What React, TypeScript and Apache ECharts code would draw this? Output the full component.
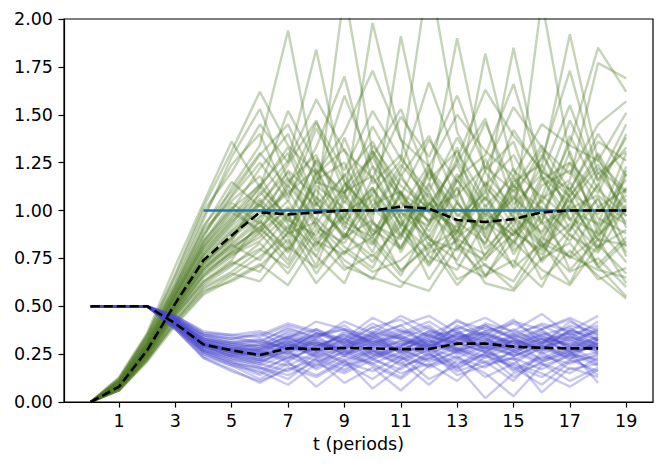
import React, { useEffect, useRef } from "react";
import * as echarts from "echarts";

// time index for each series
const T_GREEN = [0, 1, 2, 3, 4, 5, 6, 7, 8, 9, 10, 11, 12, 13, 14, 15, 16, 17, 18, 19];
const T_PURPLE = [0, 1, 2, 3, 4, 5, 6, 7, 8, 9, 10, 11, 12, 13, 14, 15, 16, 17, 18];
const X_TICKS = [1, 3, 5, 7, 9, 11, 13, 15, 17, 19];

// simulated paths (green), values at t = 0..19
const G01 = [0, 0.08, 0.27, 0.50, 0.72, 0.86, 1.05, 0.82, 1.21, 0.93, 1.12, 0.78, 1.04, 0.89, 1.27, 0.95, 0.74, 1.10, 0.98, 1.16];
const G02 = [0, 0.10, 0.31, 0.58, 0.86, 1.12, 1.34, 1.94, 1.18, 0.90, 1.31, 1.05, 0.82, 1.16, 0.97, 1.22, 0.86, 1.03, 1.29, 0.91];
const G03 = [0, 0.06, 0.22, 0.42, 0.60, 0.68, 0.79, 0.97, 0.71, 1.08, 0.84, 0.66, 0.93, 1.12, 0.75, 0.88, 1.02, 0.69, 0.85, 0.62];
const G04 = [0, 0.09, 0.29, 0.53, 0.78, 0.95, 1.08, 1.26, 1.84, 1.15, 0.87, 1.01, 1.24, 0.80, 0.99, 0.87, 1.18, 0.90, 1.06, 0.78];
const G05 = [0, 0.07, 0.25, 0.47, 0.66, 0.79, 0.92, 0.74, 1.13, 1.01, 0.78, 1.19, 0.93, 1.33, 0.86, 0.71, 1.08, 0.95, 0.80, 1.12];
const G06 = [0, 0.12, 0.34, 0.62, 0.95, 1.28, 1.53, 1.16, 1.02, 2.15, 1.30, 0.96, 1.14, 0.88, 1.21, 1.36, 0.98, 1.25, 1.09, 1.40];
const G07 = [0, 0.08, 0.26, 0.49, 0.70, 0.83, 0.96, 1.11, 0.85, 0.97, 1.23, 0.91, 0.73, 1.05, 0.82, 1.17, 0.94, 1.31, 0.87, 1.03];
const G08 = [0, 0.11, 0.33, 0.60, 0.90, 1.05, 1.18, 0.94, 1.27, 1.06, 1.98, 1.37, 0.99, 0.84, 1.14, 0.92, 1.29, 1.07, 0.79, 1.21];
const G09 = [0, 0.07, 0.24, 0.45, 0.62, 0.73, 0.68, 0.89, 0.76, 0.62, 0.94, 0.81, 1.06, 0.72, 0.65, 0.90, 0.77, 1.01, 0.70, 0.84];
const G10 = [0, 0.09, 0.28, 0.52, 0.76, 0.90, 1.03, 0.88, 1.19, 1.32, 0.95, 1.91, 1.22, 1.04, 0.86, 1.11, 0.80, 1.08, 1.24, 0.97];
const G11 = [0, 0.10, 0.30, 0.55, 0.82, 1.00, 1.22, 1.40, 1.04, 0.86, 1.09, 1.26, 2.25, 1.41, 1.12, 0.97, 0.83, 1.15, 0.91, 1.06];
const G12 = [0, 0.06, 0.21, 0.40, 0.56, 0.64, 0.72, 0.61, 0.84, 0.69, 0.77, 0.63, 0.58, 0.81, 0.66, 0.74, 0.60, 0.88, 0.71, 0.55];
const G13 = [0, 0.08, 0.27, 0.51, 0.74, 0.88, 0.99, 1.17, 0.91, 0.83, 1.06, 0.87, 1.13, 1.90, 1.20, 1.01, 0.89, 1.12, 0.84, 1.19];
const G14 = [0, 0.13, 0.36, 0.71, 1.04, 1.36, 1.12, 1.52, 1.24, 1.09, 1.44, 1.18, 1.39, 1.05, 1.82, 1.21, 1.07, 1.47, 1.16, 1.33];
const G15 = [0, 0.07, 0.25, 0.48, 0.68, 0.78, 0.86, 1.02, 0.79, 0.97, 0.83, 1.10, 0.76, 0.69, 0.94, 1.08, 0.73, 0.90, 1.14, 0.81];
const G16 = [0, 0.09, 0.29, 0.54, 0.79, 0.94, 1.06, 0.90, 1.16, 1.25, 0.93, 0.85, 1.20, 0.97, 1.09, 1.85, 1.17, 0.96, 0.88, 1.23];
const G17 = [0, 0.10, 0.31, 0.57, 0.84, 1.01, 1.13, 1.30, 0.98, 1.19, 0.89, 1.07, 0.86, 1.12, 0.80, 0.95, 2.10, 1.28, 1.02, 0.93];
const G18 = [0, 0.06, 0.23, 0.43, 0.59, 0.67, 0.63, 0.81, 0.70, 0.86, 0.95, 0.68, 0.83, 0.61, 0.77, 0.92, 0.64, 0.79, 0.66, 0.54];
const G19 = [0, 0.08, 0.27, 0.50, 0.73, 0.86, 0.97, 1.09, 1.22, 0.94, 0.86, 1.17, 1.00, 0.91, 1.15, 0.99, 1.23, 1.92, 1.26, 1.10];
const G20 = [0, 0.11, 0.33, 0.61, 0.92, 1.10, 1.30, 1.12, 1.46, 1.21, 1.52, 1.27, 1.10, 1.38, 1.13, 1.29, 1.04, 1.35, 1.85, 1.62];
const G21 = [0, 0.07, 0.24, 0.46, 0.65, 0.76, 0.88, 0.72, 0.96, 0.81, 0.70, 0.99, 0.85, 0.74, 1.03, 0.79, 0.94, 0.75, 0.87, 1.00];
const G22 = [0, 0.09, 0.28, 0.53, 0.77, 0.92, 1.04, 1.20, 0.93, 1.13, 1.28, 0.99, 0.92, 1.19, 0.98, 0.87, 1.06, 1.16, 1.77, 1.69];
const G23 = [0, 0.08, 0.26, 0.49, 0.71, 0.82, 0.94, 0.80, 1.07, 0.86, 1.11, 0.93, 0.79, 1.04, 0.88, 1.14, 0.83, 0.76, 1.02, 1.11];
const G24 = [0, 0.12, 0.35, 0.66, 1.00, 1.20, 1.45, 1.25, 1.58, 1.31, 1.17, 1.49, 1.28, 1.60, 1.22, 1.54, 1.33, 1.19, 1.45, 1.57];
const G25 = [0, 0.07, 0.23, 0.44, 0.61, 0.71, 0.83, 0.67, 0.90, 0.74, 0.64, 0.88, 0.71, 0.93, 0.66, 0.84, 0.69, 0.61, 0.82, 0.67];
const G26 = [0, 0.10, 0.30, 0.56, 0.81, 0.97, 1.14, 0.95, 0.87, 1.10, 1.18, 0.92, 1.22, 0.98, 0.90, 1.15, 1.24, 1.00, 0.93, 1.30];
const G27 = [0, 0.09, 0.28, 0.52, 0.75, 0.89, 1.00, 0.86, 1.11, 0.92, 0.82, 1.09, 0.89, 1.16, 0.94, 0.84, 1.13, 1.21, 0.96, 0.88];
const G28 = [0, 0.06, 0.22, 0.41, 0.57, 0.66, 0.76, 0.88, 0.94, 0.71, 0.65, 0.60, 0.78, 0.84, 0.62, 0.58, 0.75, 0.83, 0.64, 0.70];
const G29 = [0, 0.11, 0.32, 0.59, 0.88, 1.08, 1.29, 1.45, 1.14, 1.60, 1.23, 1.08, 1.37, 1.15, 1.46, 1.12, 1.34, 1.10, 1.40, 1.18];
const G30 = [0, 0.08, 0.26, 0.48, 0.69, 0.80, 0.91, 1.05, 0.82, 0.99, 1.08, 0.80, 1.04, 0.87, 1.07, 0.89, 0.79, 1.03, 0.85, 0.82];
const G31 = [0, 0.09, 0.29, 0.55, 0.80, 0.96, 1.12, 0.97, 1.26, 1.04, 1.31, 1.09, 0.99, 1.27, 1.63, 1.39, 1.21, 1.07, 1.30, 1.04];
const G32 = [0, 0.07, 0.25, 0.47, 0.67, 0.78, 0.89, 1.01, 0.84, 0.77, 1.03, 1.10, 0.85, 0.79, 1.01, 0.83, 1.05, 0.87, 0.78, 1.02];
const G33 = [0, 0.09, 0.30, 0.57, 0.83, 1.02, 0.88, 1.13, 0.95, 1.38, 1.02, 0.86, 1.21, 0.93, 1.07, 0.81, 1.16, 1.25, 0.92, 1.08];
const G34 = [0, 0.07, 0.24, 0.46, 0.63, 0.74, 0.95, 0.78, 1.04, 0.85, 1.17, 0.96, 0.72, 0.89, 1.11, 0.77, 0.98, 0.84, 1.07, 0.76];
const G35 = [0, 0.10, 0.32, 0.60, 0.91, 1.15, 1.02, 1.24, 1.47, 1.09, 1.28, 1.53, 1.16, 1.31, 1.05, 1.42, 1.20, 1.11, 1.36, 1.26];
const G36 = [0, 0.08, 0.26, 0.49, 0.69, 0.82, 0.74, 0.92, 0.67, 0.88, 0.73, 0.95, 0.64, 0.86, 0.97, 0.70, 0.83, 0.62, 0.91, 0.73];
const G37 = [0, 0.11, 0.34, 0.64, 0.97, 1.24, 1.40, 1.07, 1.33, 1.70, 1.14, 1.29, 1.02, 1.25, 1.48, 1.03, 1.19, 1.55, 1.15, 1.45];
const G38 = [0, 0.08, 0.27, 0.51, 0.72, 0.84, 1.10, 0.93, 0.81, 1.14, 0.99, 1.24, 1.07, 0.94, 0.83, 1.13, 1.01, 0.89, 1.20, 1.00];
const G39 = [0, 0.06, 0.22, 0.42, 0.58, 0.63, 0.71, 0.85, 0.62, 0.79, 0.68, 0.74, 0.87, 0.64, 0.72, 0.59, 0.82, 0.68, 0.75, 0.60];
const G40 = [0, 0.09, 0.29, 0.55, 0.81, 0.99, 0.90, 1.15, 1.29, 0.97, 1.12, 0.88, 1.03, 1.24, 0.91, 1.06, 1.32, 0.95, 1.13, 1.38];
const G41 = [0, 0.10, 0.31, 0.58, 0.87, 1.07, 1.25, 1.05, 1.43, 1.15, 0.98, 1.21, 1.67, 1.26, 1.02, 1.18, 0.94, 1.39, 1.11, 0.97];
const G42 = [0, 0.07, 0.25, 0.47, 0.66, 0.77, 0.84, 0.98, 0.76, 1.05, 0.90, 0.80, 1.09, 0.85, 0.77, 1.00, 0.88, 1.06, 0.81, 0.90];
const G43 = [0, 0.12, 0.35, 0.67, 1.02, 1.31, 1.62, 1.34, 1.19, 1.41, 1.73, 1.37, 1.23, 1.50, 1.31, 1.18, 1.45, 1.34, 1.26, 1.51];
const G44 = [0, 0.08, 0.26, 0.50, 0.70, 0.81, 0.90, 0.79, 1.01, 0.88, 0.76, 0.92, 1.10, 0.82, 0.74, 0.96, 0.81, 0.93, 0.72, 0.86];
const G45 = [0, 0.09, 0.28, 0.53, 0.77, 0.93, 1.12, 1.33, 1.03, 1.18, 1.36, 1.08, 0.94, 1.17, 1.29, 1.66, 1.18, 1.04, 1.22, 1.09];
const G46 = [0, 0.07, 0.23, 0.45, 0.63, 0.72, 0.80, 0.70, 0.93, 0.78, 0.86, 0.69, 0.81, 0.90, 0.71, 0.63, 0.86, 0.76, 0.69, 0.65];
const G47 = [0, 0.10, 0.30, 0.56, 0.84, 1.04, 0.93, 1.21, 1.07, 0.95, 1.34, 1.13, 1.01, 1.08, 1.23, 1.10, 1.27, 1.73, 1.19, 1.31];
const G48 = [0, 0.08, 0.27, 0.52, 0.73, 0.85, 1.03, 0.89, 1.15, 1.09, 0.87, 1.04, 0.95, 1.01, 0.90, 1.07, 0.93, 1.01, 1.08, 0.94];

// simulated paths (purple), values at t = 0..18
const P01 = [0.5, 0.5, 0.5, 0.42, 0.31, 0.27, 0.24, 0.30, 0.26, 0.33, 0.22, 0.29, 0.35, 0.27, 0.31, 0.24, 0.30, 0.36, 0.28];
const P02 = [0.5, 0.5, 0.5, 0.44, 0.35, 0.33, 0.36, 0.29, 0.38, 0.32, 0.41, 0.34, 0.30, 0.39, 0.35, 0.43, 0.31, 0.37, 0.33];
const P03 = [0.5, 0.5, 0.5, 0.39, 0.26, 0.21, 0.15, 0.24, 0.18, 0.27, 0.20, 0.13, 0.25, 0.19, 0.28, 0.16, 0.23, 0.29, 0.21];
const P04 = [0.5, 0.5, 0.5, 0.41, 0.29, 0.25, 0.22, 0.31, 0.35, 0.24, 0.30, 0.27, 0.33, 0.38, 0.26, 0.32, 0.22, 0.28, 0.34];
const P05 = [0.5, 0.5, 0.5, 0.43, 0.33, 0.30, 0.28, 0.34, 0.27, 0.37, 0.31, 0.26, 0.35, 0.30, 0.40, 0.33, 0.27, 0.38, 0.32];
const P06 = [0.5, 0.5, 0.5, 0.40, 0.27, 0.22, 0.18, 0.12, 0.23, 0.17, 0.26, 0.21, 0.09, 0.22, 0.15, 0.03, 0.19, 0.24, 0.14];
const P07 = [0.5, 0.5, 0.5, 0.42, 0.30, 0.28, 0.25, 0.32, 0.28, 0.24, 0.34, 0.29, 0.37, 0.31, 0.26, 0.35, 0.29, 0.25, 0.31];
const P08 = [0.5, 0.5, 0.5, 0.45, 0.36, 0.34, 0.31, 0.39, 0.33, 0.42, 0.36, 0.45, 0.38, 0.32, 0.41, 0.37, 0.46, 0.35, 0.40];
const P09 = [0.5, 0.5, 0.5, 0.38, 0.24, 0.19, 0.12, 0.20, 0.14, 0.22, 0.07, 0.18, 0.25, 0.16, 0.21, 0.11, 0.26, 0.17, 0.20];
const P10 = [0.5, 0.5, 0.5, 0.41, 0.30, 0.26, 0.23, 0.28, 0.32, 0.25, 0.29, 0.34, 0.27, 0.32, 0.36, 0.29, 0.33, 0.26, 0.30];
const P11 = [0.5, 0.5, 0.5, 0.43, 0.32, 0.29, 0.27, 0.35, 0.30, 0.28, 0.33, 0.38, 0.31, 0.43, 0.34, 0.29, 0.36, 0.32, 0.37];
const P12 = [0.5, 0.5, 0.5, 0.40, 0.28, 0.24, 0.21, 0.26, 0.19, 0.30, 0.25, 0.20, 0.28, 0.23, 0.18, 0.27, 0.21, 0.25, 0.19];
const P13 = [0.5, 0.5, 0.5, 0.42, 0.31, 0.27, 0.26, 0.22, 0.29, 0.35, 0.28, 0.31, 0.24, 0.33, 0.29, 0.25, 0.34, 0.30, 0.27];
const P14 = [0.5, 0.5, 0.5, 0.44, 0.34, 0.31, 0.33, 0.27, 0.36, 0.31, 0.39, 0.33, 0.28, 0.36, 0.31, 0.38, 0.30, 0.42, 0.35];
const P15 = [0.5, 0.5, 0.5, 0.39, 0.25, 0.20, 0.14, 0.21, 0.08, 0.19, 0.23, 0.15, 0.20, 0.11, 0.24, 0.19, 0.13, 0.22, 0.16];
const P16 = [0.5, 0.5, 0.5, 0.41, 0.29, 0.26, 0.24, 0.29, 0.25, 0.31, 0.27, 0.23, 0.30, 0.28, 0.33, 0.26, 0.31, 0.27, 0.29];
const P17 = [0.5, 0.5, 0.5, 0.43, 0.33, 0.29, 0.30, 0.36, 0.31, 0.27, 0.35, 0.30, 0.37, 0.34, 0.28, 0.36, 0.33, 0.29, 0.38];
const P18 = [0.5, 0.5, 0.5, 0.40, 0.27, 0.23, 0.19, 0.25, 0.22, 0.16, 0.24, 0.28, 0.21, 0.26, 0.20, 0.23, 0.17, 0.25, 0.22];
const P19 = [0.5, 0.5, 0.5, 0.42, 0.30, 0.27, 0.25, 0.33, 0.29, 0.34, 0.26, 0.32, 0.29, 0.35, 0.30, 0.27, 0.32, 0.36, 0.30];
const P20 = [0.5, 0.5, 0.5, 0.45, 0.37, 0.35, 0.34, 0.40, 0.36, 0.33, 0.44, 0.37, 0.35, 0.42, 0.38, 0.34, 0.41, 0.37, 0.45];
const P21 = [0.5, 0.5, 0.5, 0.38, 0.23, 0.17, 0.10, 0.18, 0.13, 0.21, 0.16, 0.24, 0.12, 0.19, 0.02, 0.15, 0.20, 0.11, 0.18];
const P22 = [0.5, 0.5, 0.5, 0.41, 0.29, 0.25, 0.22, 0.27, 0.31, 0.28, 0.24, 0.30, 0.33, 0.26, 0.30, 0.34, 0.25, 0.31, 0.27];
const P23 = [0.5, 0.5, 0.5, 0.43, 0.32, 0.28, 0.28, 0.31, 0.27, 0.36, 0.32, 0.27, 0.34, 0.31, 0.35, 0.30, 0.37, 0.28, 0.33];
const P24 = [0.5, 0.5, 0.5, 0.40, 0.28, 0.24, 0.20, 0.29, 0.24, 0.19, 0.27, 0.22, 0.29, 0.17, 0.26, 0.22, 0.28, 0.23, 0.26];
const P25 = [0.5, 0.5, 0.5, 0.42, 0.31, 0.28, 0.27, 0.23, 0.33, 0.29, 0.36, 0.25, 0.31, 0.37, 0.27, 0.32, 0.28, 0.33, 0.25];
const P26 = [0.5, 0.5, 0.5, 0.44, 0.35, 0.32, 0.32, 0.38, 0.34, 0.40, 0.30, 0.36, 0.42, 0.33, 0.39, 0.35, 0.31, 0.40, 0.36];
const P27 = [0.5, 0.5, 0.5, 0.39, 0.26, 0.21, 0.17, 0.23, 0.28, 0.20, 0.12, 0.22, 0.27, 0.20, 0.25, 0.18, 0.09, 0.21, 0.24];
const P28 = [0.5, 0.5, 0.5, 0.41, 0.30, 0.26, 0.25, 0.30, 0.26, 0.32, 0.29, 0.24, 0.32, 0.27, 0.31, 0.28, 0.33, 0.26, 0.29];
const P29 = [0.5, 0.5, 0.5, 0.43, 0.32, 0.30, 0.29, 0.34, 0.38, 0.30, 0.35, 0.40, 0.29, 0.34, 0.36, 0.31, 0.38, 0.43, 0.32];
const P30 = [0.5, 0.5, 0.5, 0.40, 0.27, 0.22, 0.20, 0.16, 0.25, 0.21, 0.27, 0.19, 0.23, 0.28, 0.21, 0.26, 0.20, 0.15, 0.23];
const P31 = [0.5, 0.5, 0.5, 0.42, 0.30, 0.27, 0.27, 0.31, 0.23, 0.28, 0.33, 0.28, 0.26, 0.30, 0.34, 0.24, 0.29, 0.32, 0.28];
const P32 = [0.5, 0.5, 0.5, 0.44, 0.34, 0.31, 0.31, 0.28, 0.35, 0.38, 0.31, 0.35, 0.40, 0.29, 0.37, 0.41, 0.34, 0.30, 0.39];
const P33 = [0.5, 0.5, 0.5, 0.41, 0.29, 0.24, 0.26, 0.21, 0.30, 0.25, 0.32, 0.27, 0.22, 0.31, 0.26, 0.20, 0.29, 0.24, 0.31];
const P34 = [0.5, 0.5, 0.5, 0.43, 0.33, 0.31, 0.29, 0.37, 0.32, 0.28, 0.36, 0.33, 0.39, 0.27, 0.35, 0.31, 0.26, 0.34, 0.30];
const P35 = [0.5, 0.5, 0.5, 0.39, 0.25, 0.19, 0.16, 0.09, 0.20, 0.15, 0.22, 0.17, 0.26, 0.14, 0.19, 0.23, 0.05, 0.18, 0.13];
const P36 = [0.5, 0.5, 0.5, 0.42, 0.31, 0.28, 0.30, 0.25, 0.34, 0.38, 0.29, 0.32, 0.27, 0.40, 0.33, 0.28, 0.35, 0.39, 0.29];
const P37 = [0.5, 0.5, 0.5, 0.44, 0.35, 0.33, 0.35, 0.41, 0.37, 0.31, 0.39, 0.43, 0.34, 0.38, 0.44, 0.36, 0.40, 0.33, 0.42];
const P38 = [0.5, 0.5, 0.5, 0.40, 0.27, 0.23, 0.21, 0.27, 0.17, 0.24, 0.20, 0.26, 0.18, 0.23, 0.29, 0.17, 0.24, 0.20, 0.25];
const P39 = [0.5, 0.5, 0.5, 0.42, 0.30, 0.26, 0.23, 0.30, 0.27, 0.33, 0.25, 0.29, 0.36, 0.28, 0.24, 0.32, 0.27, 0.35, 0.26];
const P40 = [0.5, 0.5, 0.5, 0.41, 0.29, 0.25, 0.27, 0.32, 0.24, 0.29, 0.34, 0.26, 0.30, 0.35, 0.28, 0.33, 0.38, 0.27, 0.32];
const P41 = [0.5, 0.5, 0.5, 0.38, 0.23, 0.16, 0.11, 0.17, 0.22, 0.10, 0.18, 0.06, 0.19, 0.24, 0.13, 0.20, 0.15, 0.08, 0.17];
const P42 = [0.5, 0.5, 0.5, 0.43, 0.32, 0.29, 0.26, 0.33, 0.29, 0.35, 0.30, 0.35, 0.28, 0.33, 0.37, 0.30, 0.35, 0.29, 0.34];
const P43 = [0.5, 0.5, 0.5, 0.45, 0.36, 0.35, 0.37, 0.33, 0.42, 0.38, 0.34, 0.40, 0.45, 0.36, 0.32, 0.42, 0.38, 0.44, 0.37];
const P44 = [0.5, 0.5, 0.5, 0.40, 0.28, 0.24, 0.22, 0.19, 0.26, 0.22, 0.28, 0.23, 0.19, 0.27, 0.23, 0.29, 0.22, 0.26, 0.20];
const P45 = [0.5, 0.5, 0.5, 0.42, 0.31, 0.27, 0.28, 0.34, 0.30, 0.26, 0.31, 0.37, 0.30, 0.26, 0.32, 0.27, 0.31, 0.34, 0.28];
const P46 = [0.5, 0.5, 0.5, 0.41, 0.30, 0.26, 0.24, 0.26, 0.31, 0.27, 0.23, 0.28, 0.32, 0.25, 0.29, 0.24, 0.30, 0.22, 0.33];
const P47 = [0.5, 0.5, 0.5, 0.39, 0.26, 0.20, 0.18, 0.14, 0.21, 0.26, 0.19, 0.12, 0.23, 0.18, 0.25, 0.13, 0.21, 0.27, 0.10];
const P48 = [0.5, 0.5, 0.5, 0.43, 0.33, 0.30, 0.32, 0.28, 0.36, 0.30, 0.37, 0.33, 0.29, 0.36, 0.40, 0.33, 0.28, 0.37, 0.35];

// mean paths (dashed black)
const GREEN_MEAN = [0, 0.08, 0.27, 0.515, 0.74, 0.87, 0.99, 0.98, 0.99, 1.0, 1.0, 1.02, 1.01, 0.95, 0.94, 0.955, 0.99, 1.0, 1.0, 1.0];
const PURPLE_MEAN = [0.5, 0.5, 0.5, 0.41, 0.30, 0.27, 0.245, 0.28, 0.276, 0.282, 0.28, 0.276, 0.277, 0.305, 0.305, 0.289, 0.283, 0.28, 0.28];

// steady-state level (blue)
const TARGET_T = [4, 19];
const TARGET_Y = [1.0, 1.0];

const GREEN_PATHS = [G01, G02, G03, G04, G05, G06, G07, G08, G09, G10, G11, G12, G13, G14, G15, G16,
  G17, G18, G19, G20, G21, G22, G23, G24, G25, G26, G27, G28, G29, G30, G31, G32,
  G33, G34, G35, G36, G37, G38, G39, G40, G41, G42, G43, G44, G45, G46, G47, G48];
const PURPLE_PATHS = [P01, P02, P03, P04, P05, P06, P07, P08, P09, P10, P11, P12, P13, P14, P15, P16,
  P17, P18, P19, P20, P21, P22, P23, P24, P25, P26, P27, P28, P29, P30, P31, P32,
  P33, P34, P35, P36, P37, P38, P39, P40, P41, P42, P43, P44, P45, P46, P47, P48];

const FONT = "DejaVu Sans";
const FS = 17.5;

export default function App() {
  const ref = useRef<HTMLDivElement>(null);
  useEffect(() => {
    document.body.style.margin = "0";
    if (!ref.current) return;
    const chart = echarts.init(ref.current, null, { renderer: "svg" });
    const pair = (ts: number[], ys: number[]) => ys.map((y, i) => [ts[i], y]);
    const series: any[] = [];
    GREEN_PATHS.forEach((p) =>
      series.push({
        type: "line",
        data: pair(T_GREEN, p),
        showSymbol: false,
        silent: true,
        z: 2,
        lineStyle: { color: "#4e7a25", width: 2.4, opacity: 0.33 },
      })
    );
    PURPLE_PATHS.forEach((p) =>
      series.push({
        type: "line",
        data: pair(T_PURPLE, p),
        showSymbol: false,
        silent: true,
        z: 3,
        lineStyle: { color: "#4b4bcc", width: 2.4, opacity: 0.3 },
      })
    );
    series.push({
      type: "line",
      data: pair(TARGET_T, TARGET_Y),
      showSymbol: false,
      silent: true,
      z: 4,
      lineStyle: { color: "#1f77b4", width: 2.4 },
    });
    series.push({
      type: "line",
      data: pair(T_GREEN, GREEN_MEAN),
      showSymbol: false,
      silent: true,
      z: 5,
      lineStyle: { color: "#000", width: 2.6, type: [9, 4] },
    });
    series.push({
      type: "line",
      data: pair(T_PURPLE, PURPLE_MEAN),
      showSymbol: false,
      silent: true,
      z: 5,
      lineStyle: { color: "#000", width: 2.6, type: [9, 4] },
    });

    chart.setOption({
      animation: false,
      backgroundColor: "#fff",
      grid: {
        left: 64,
        right: 12,
        top: 19,
        bottom: 66,
        show: true,
        borderColor: "#000",
        borderWidth: 1.2,
        backgroundColor: "transparent",
        z: 10,
      },
      xAxis: {
        type: "value",
        min: -0.95,
        max: 19.95,
        name: "t (periods)",
        nameLocation: "middle",
        nameGap: 29,
        nameTextStyle: { fontFamily: FONT, fontSize: FS, color: "#000" },
        axisLine: { show: true, onZero: false, lineStyle: { color: "#000", width: 1.2 } },
        axisTick: { show: true, length: 5.6, customValues: X_TICKS, lineStyle: { color: "#000", width: 1.2 } },
        axisLabel: { customValues: X_TICKS, margin: 10, fontFamily: FONT, fontSize: FS, color: "#000" },
        splitLine: { show: false },
      },
      yAxis: {
        type: "value",
        min: 0,
        max: 2,
        interval: 0.25,
        axisLine: { show: true, onZero: false, lineStyle: { color: "#000", width: 1.2 } },
        axisTick: { show: true, length: 5.6, lineStyle: { color: "#000", width: 1.2 } },
        axisLabel: {
          margin: 11,
          fontFamily: FONT,
          fontSize: FS,
          color: "#000",
          formatter: (v: number) => v.toFixed(2),
        },
        splitLine: { show: false },
      },
      series,
    });
    return () => chart.dispose();
  }, []);
  return <div ref={ref} style={{ width: 665, height: 468 }} />;
}
